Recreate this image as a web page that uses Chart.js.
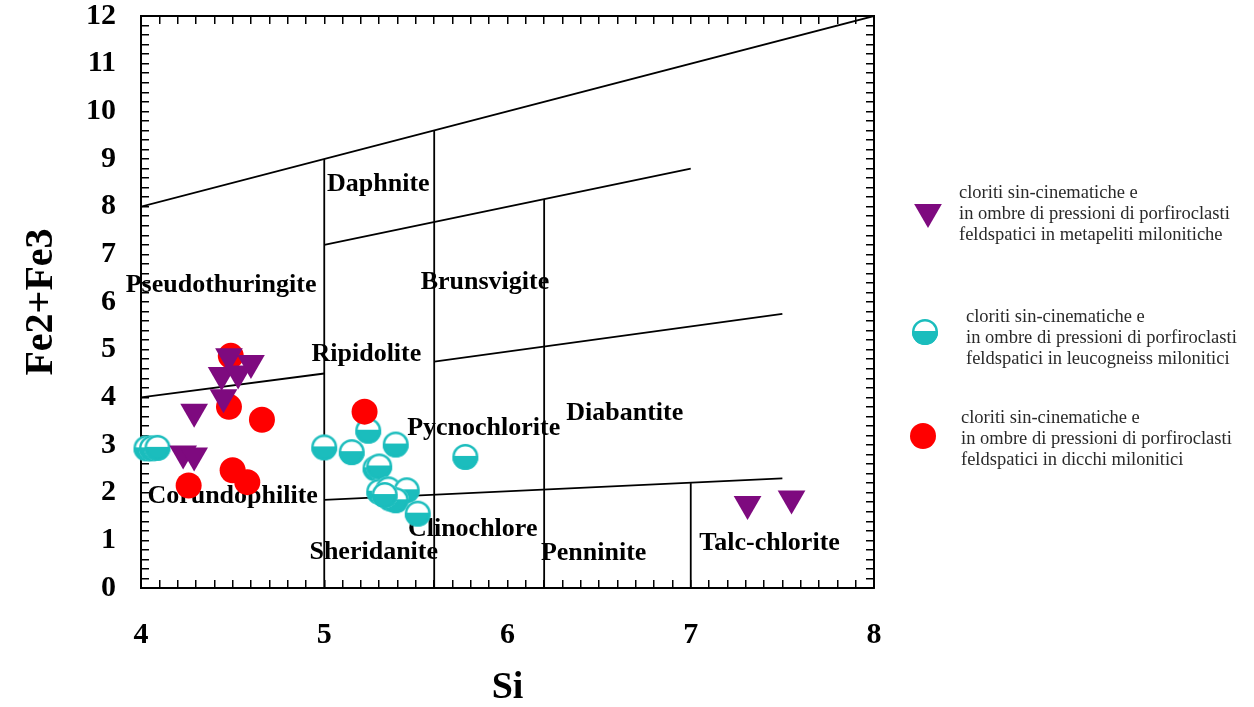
<!DOCTYPE html>
<html>
<head>
<meta charset="utf-8">
<script src="https://cdn.jsdelivr.net/npm/chart.js@4.4.0/dist/chart.umd.min.js"></script>
<style>
  html, body { margin: 0; padding: 0; background: #fff; }
  #wrap { width: 1254px; height: 707px; }
</style>
</head>
<body>
<div id="wrap"><canvas id="chart" width="1254" height="707"></canvas></div>
<script>
// Series: Si (x) vs Fe2+Fe3 (y)
const metapelitiSi = [4.48, 4.60, 4.44, 4.53, 4.45, 4.29, 4.23, 4.29, 7.31, 7.55];
const metapelitiFe = [4.86, 4.72, 4.47, 4.50, 4.00, 3.70, 2.82, 2.78, 1.76, 1.88];

const leucogneissSi = [4.03, 4.06, 4.09, 5.00, 5.24, 5.15, 5.39, 5.28, 5.30, 5.30, 5.35, 5.45, 5.36, 5.39, 5.33, 5.51, 5.77];
const leucogneissFe = [2.93, 2.93, 2.94, 2.95, 3.30, 2.85, 3.01, 2.51, 2.55, 2.02, 2.07, 2.05, 1.88, 1.84, 1.95, 1.56, 2.75];

const dicchiSi = [4.49, 4.48, 4.66, 4.26, 4.50, 4.58, 5.22];
const dicchiFe = [4.87, 3.80, 3.53, 2.15, 2.47, 2.22, 3.70];

// Field boundaries (Hey diagram)
const boundaryLines = [
  [[4, 8], [8, 12]],
  [[5, 0], [5, 9]],
  [[5.6, 0], [5.6, 9.6]],
  [[5, 7.2], [7, 8.8]],
  [[6.2, 0], [6.2, 8.16]],
  [[4, 4], [5, 4.5]],
  [[5.6, 4.75], [7.5, 5.75]],
  [[5, 1.85], [7.5, 2.3]],
  [[7, 0], [7, 2.2]]
];

// Field names
const fieldNames = ['Daphnite', 'Pseudothuringite', 'Brunsvigite', 'Ripidolite', 'Pycnochlorite',
  'Diabantite', 'Corundophilite', 'Clinochlore', 'Sheridanite', 'Penninite', 'Talc-chlorite'];
const fieldSi = [5.295, 4.437, 5.877, 5.23, 5.87, 6.64, 4.50, 5.81, 5.27, 6.47, 7.43];
const fieldFe = [8.46, 6.36, 6.42, 4.91, 3.35, 3.66, 1.92, 1.23, 0.75, 0.73, 0.94];

// Legend text
const legendMetapeliti = ['cloriti sin-cinematiche e', 'in ombre di pressioni di porfiroclasti', 'feldspatici in metapeliti milonitiche'];
const legendLeucogneiss = ['cloriti sin-cinematiche e', 'in ombre di pressioni di porfiroclasti', 'feldspatici in leucogneiss milonitici'];
const legendDicchi = ['cloriti sin-cinematiche e', 'in ombre di pressioni di porfiroclasti', 'feldspatici in dicchi milonitici'];

const PURPLE = '#7e0a7f';
const CYAN = '#1bbdbd';
const RED = '#ff0000';
const SERIF = '"Liberation Serif", "Times New Roman", serif';

const toPoints = (xs, ys) => xs.map((v, i) => ({ x: v, y: ys[i] }));

// Half-filled circle marker
function halfCircle(r) {
  const c = document.createElement('canvas');
  const s = Math.ceil(r * 2 + 4);
  c.width = s; c.height = s;
  const g = c.getContext('2d');
  const m = s / 2;
  g.beginPath();
  g.arc(m, m, r, 0, Math.PI * 2);
  g.fillStyle = '#fff';
  g.fill();
  g.save();
  g.beginPath();
  g.arc(m, m, r, 0, Math.PI * 2);
  g.clip();
  g.fillStyle = CYAN;
  g.fillRect(0, m - 1, s, s);
  g.restore();
  g.beginPath();
  g.arc(m, m, r - 1.2, 0, Math.PI * 2);
  g.lineWidth = 2.4;
  g.strokeStyle = CYAN;
  g.stroke();
  return c;
}
const halfMarker = halfCircle(13);

const lineDatasets = boundaryLines.map(seg => ({
  type: 'line',
  data: seg.map(p => ({ x: p[0], y: p[1] })),
  borderColor: '#000',
  borderWidth: 1.8,
  pointRadius: 0,
  fill: false,
  order: 10
}));

// Field name labels, drawn under the points
const fieldLabels = {
  id: 'fieldLabels',
  beforeDatasetsDraw(chart) {
    const { ctx, scales: { x, y } } = chart;
    ctx.save();
    ctx.font = 'bold 26px ' + SERIF;
    ctx.fillStyle = '#000';
    ctx.textAlign = 'center';
    ctx.textBaseline = 'middle';
    fieldNames.forEach((name, i) => {
      ctx.fillText(name, x.getPixelForValue(fieldSi[i]), y.getPixelForValue(fieldFe[i]));
    });
    ctx.restore();
  }
};

// Legend on the right
const sideLegend = {
  id: 'sideLegend',
  afterDraw(chart) {
    const ctx = chart.ctx;
    const items = [
      { lines: legendMetapeliti, mx: 928, my: 212, tx: 959, ty: 193, style: 'triangle' },
      { lines: legendLeucogneiss, mx: 925, my: 332, tx: 966, ty: 317, style: 'half' },
      { lines: legendDicchi, mx: 923, my: 436, tx: 961, ty: 418, style: 'circle' }
    ];
    ctx.save();
    items.forEach(it => {
      if (it.style === 'triangle') {
        ctx.fillStyle = PURPLE; ctx.strokeStyle = PURPLE;
        Chart.helpers.drawPoint(ctx, { pointStyle: 'triangle', rotation: 180, radius: 16, borderWidth: 0 }, it.mx, it.my);
      } else if (it.style === 'half') {
        ctx.drawImage(halfMarker, it.mx - halfMarker.width / 2, it.my - halfMarker.height / 2);
      } else {
        ctx.fillStyle = RED; ctx.strokeStyle = RED;
        Chart.helpers.drawPoint(ctx, { pointStyle: 'circle', radius: 13, borderWidth: 0 }, it.mx, it.my);
      }
      ctx.font = '18.5px ' + SERIF;
      ctx.fillStyle = '#2a2a2a';
      ctx.textAlign = 'left';
      ctx.textBaseline = 'middle';
      it.lines.forEach((t, k) => ctx.fillText(t, it.tx, it.ty + k * 21));
    });
    ctx.restore();
  }
};

const intLabel = v => (Math.abs(v - Math.round(v)) < 1e-6 ? String(Math.round(v)) : '');
const tickFont = { family: SERIF, size: 30, weight: 'bold' };

new Chart(document.getElementById('chart'), {
  type: 'scatter',
  data: {
    datasets: [
      {
        label: 'metapeliti',
        data: toPoints(metapelitiSi, metapelitiFe),
        pointStyle: 'triangle',
        rotation: 180,
        pointRadius: 16,
        backgroundColor: PURPLE,
        borderColor: PURPLE,
        borderWidth: 0,
        clip: false,
        order: 0
      },
      {
        label: 'dicchi',
        data: toPoints(dicchiSi, dicchiFe),
        pointStyle: 'circle',
        pointRadius: 13,
        backgroundColor: RED,
        borderColor: RED,
        borderWidth: 0,
        clip: false,
        order: 1
      },
      {
        label: 'leucogneiss',
        data: toPoints(leucogneissSi, leucogneissFe),
        pointStyle: halfMarker,
        pointRadius: 13,
        clip: false,
        order: 2
      },
      ...lineDatasets
    ]
  },
  options: {
    responsive: false,
    animation: false,
    events: [],
    layout: { padding: { top: 14, right: 380, left: 0, bottom: 0 } },
    plugins: { legend: { display: false }, tooltip: { enabled: false } },
    scales: {
      x: {
        type: 'linear', position: 'bottom', min: 4, max: 8,
        grid: { drawOnChartArea: false, tickLength: -8, color: '#000', lineWidth: 1.5 },
        border: { color: '#000', width: 2 },
        ticks: { stepSize: 0.1, maxTicksLimit: 100, autoSkip: false, maxRotation: 0, padding: 37,
          color: '#000', font: tickFont, callback: intLabel },
        title: { display: true, text: 'Si', color: '#000', padding: { top: 0, bottom: 0 },
          font: { family: SERIF, size: 38, weight: 'bold', lineHeight: 1 } },
        afterFit: s => { s.height = 119; }
      },
      x2: {
        type: 'linear', position: 'top', min: 4, max: 8,
        grid: { drawOnChartArea: false, tickLength: -8, color: '#000', lineWidth: 1.5 },
        border: { color: '#000', width: 2 },
        ticks: { display: false, stepSize: 0.1, maxTicksLimit: 100, autoSkip: false },
        afterFit: s => { s.height = 0; }
      },
      y: {
        type: 'linear', position: 'left', min: 0, max: 12,
        grid: { drawOnChartArea: false, tickLength: -8, color: '#000', lineWidth: 1.5 },
        border: { color: '#000', width: 2 },
        ticks: { stepSize: 0.2, maxTicksLimit: 100, autoSkip: false, padding: 33,
          color: '#000', font: tickFont, callback: intLabel },
        title: { display: true, text: 'Fe2+Fe3', color: '#000', padding: { top: 18, bottom: 0 },
          font: { family: SERIF, size: 40, weight: 'bold' } },
        afterFit: s => { s.width = 141; s.paddingTop = 0; s.paddingBottom = 0; }
      },
      y2: {
        type: 'linear', position: 'right', min: 0, max: 12,
        grid: { drawOnChartArea: false, tickLength: -8, color: '#000', lineWidth: 1.5 },
        border: { color: '#000', width: 2 },
        ticks: { display: false, stepSize: 0.2, maxTicksLimit: 100, autoSkip: false },
        afterFit: s => { s.width = 0; s.paddingTop = 0; s.paddingBottom = 0; }
      }
    }
  },
  plugins: [fieldLabels, sideLegend]
});
</script>
</body>
</html>
